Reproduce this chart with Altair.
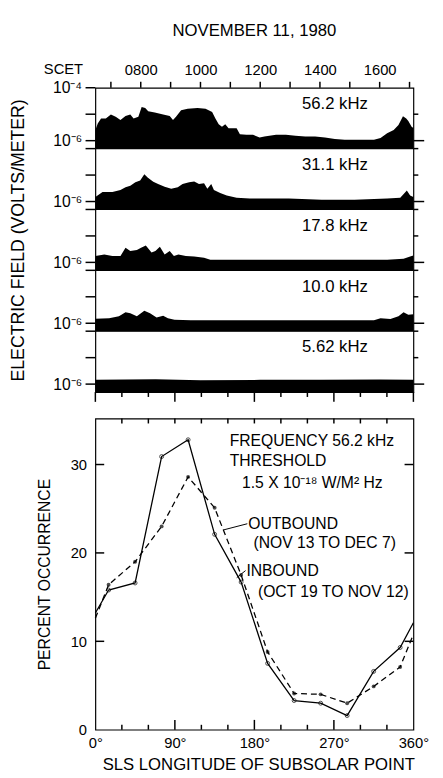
import altair as alt
import pandas as pd

FONT = "Liberation Sans"

# ---------------- top: electric field spectra (log10 V/m) vs SCET hour ----------------
panel_labels = ["56.2 kHz", "31.1 kHz", "17.8 kHz", "10.0 kHz", "5.62 kHz"]

p1_hour = [6.48, 6.56, 6.67, 6.83, 7.00, 7.16, 7.32, 7.49,
           7.65, 7.76, 7.92, 8.03, 8.15, 8.25, 8.47, 8.75,
           8.97, 9.08, 9.18, 9.35, 9.57, 9.90, 10.17, 10.39,
           10.50, 10.61, 10.72, 10.83, 10.94, 11.10, 11.21, 11.32,
           11.54, 11.76, 11.98, 12.14, 12.53, 12.86, 13.18, 13.51,
           13.84, 14.17, 14.50, 14.83, 15.16, 15.48, 15.81, 16.03,
           16.25, 16.47, 16.63, 16.78, 16.89, 16.96, 17.07, 17.13]
p1_log = [-5.60, -5.35, -5.16, -5.16, -5.01, -5.10, -5.22, -5.07,
          -5.01, -5.16, -5.10, -4.73, -4.77, -4.89, -4.94, -5.01,
          -5.07, -5.22, -5.10, -4.85, -4.79, -4.77, -4.79, -4.92,
          -5.16, -5.38, -5.47, -5.38, -5.53, -5.53, -5.53, -5.76,
          -5.78, -5.78, -5.88, -5.84, -5.78, -5.78, -5.81, -5.84,
          -5.84, -5.88, -5.94, -5.97, -5.97, -5.97, -5.97, -5.90,
          -5.72, -5.60, -5.41, -5.08, -5.16, -5.26, -5.47, -5.52]

p2_hour = [6.48, 6.72, 7.05, 7.32, 7.49, 7.65, 7.82, 7.98,
           8.12, 8.23, 8.42, 8.58, 8.80, 9.02, 9.24, 9.40,
           9.62, 9.79, 9.95, 10.12, 10.23, 10.36, 10.45, 10.66,
           10.88, 11.21, 11.65, 12.09, 12.96, 14.06, 15.16, 16.25,
           16.69, 16.91, 17.02, 17.13]
p2_log = [-5.83, -5.64, -5.64, -5.56, -5.46, -5.40, -5.27, -5.21,
          -4.97, -5.09, -5.25, -5.34, -5.44, -5.52, -5.46, -5.34,
          -5.27, -5.24, -5.34, -5.31, -5.52, -5.34, -5.56, -5.68,
          -5.77, -5.86, -5.89, -5.89, -5.89, -5.93, -5.93, -5.89,
          -5.86, -5.58, -5.77, -5.83]

p3_hour = [6.48, 6.78, 7.05, 7.32, 7.49, 7.65, 7.87, 8.01,
           8.17, 8.36, 8.49, 8.64, 8.80, 8.97, 9.11, 9.26,
           9.51, 9.79, 10.12, 10.33, 11.32, 12.96, 15.16, 16.25,
           16.80, 17.07, 17.13]
p3_log = [-5.76, -5.70, -5.76, -5.76, -5.45, -5.57, -5.53, -5.45,
          -5.36, -5.63, -5.57, -5.41, -5.70, -5.57, -5.76, -5.70,
          -5.76, -5.78, -5.82, -5.90, -5.90, -5.90, -5.90, -5.90,
          -5.86, -5.76, -5.74]

p4_hour = [6.48, 6.94, 7.27, 7.49, 7.65, 7.87, 8.12, 8.31,
           8.53, 8.75, 8.91, 9.13, 9.68, 11.87, 14.06, 15.81,
           16.03, 16.36, 16.63, 16.80, 16.96, 17.13]
p4_log = [-5.83, -5.81, -5.74, -5.58, -5.62, -5.74, -5.53, -5.62,
          -5.78, -5.72, -5.81, -5.87, -5.89, -5.89, -5.89, -5.89,
          -5.81, -5.84, -5.74, -5.58, -5.68, -5.66]

p5_hour = [6.48, 8.50, 10.00, 12.00, 14.00, 16.00, 17.13]
p5_log = [-5.84, -5.82, -5.85, -5.84, -5.84, -5.83, -5.84]

panels = [(p1_hour, p1_log), (p2_hour, p2_log), (p3_hour, p3_log),
          (p4_hour, p4_log), (p5_hour, p5_log)]

DEC = 2.3      # decades shown per panel
BOT = -6.3     # log10 value at the bottom of every panel
H0, H1 = 6.48, 17.13

rows = []
for p, (hrs, logs) in enumerate(panels):
    for h, l in zip(hrs, logs):
        rows.append({"panel": p, "hour": h,
                     "c": (4 - p) * DEC + (l - BOT), "base": (4 - p) * DEC})
spec = pd.DataFrame(rows)

six_vals = [round(0.3 + DEC * k, 3) for k in range(5)]
five_vals = [round(1.3 + DEC * k, 3) for k in range(5)]
bnd_vals = [round(DEC * k, 3) for k in range(1, 5)]
TOP = round(5 * DEC, 3)
hour_ticks = list(range(7, 18))
lon_minor_vals = [v for v in range(0, 361, 30) if v % 90 != 0]
lon_major_vals = [0, 90, 180, 270, 360]

lab_df = pd.DataFrame({"hour": [14.5] * 5,
                       "c": [round((4 - p) * DEC + DEC - 0.62, 3) for p in range(5)],
                       "label": panel_labels})
bnd_df = pd.DataFrame({"c": bnd_vals, "h1": [H0] * 4, "h2": [H1] * 4})

hscale = alt.Scale(domain=[H0, H1], nice=False, zero=False)
cscale = alt.Scale(domain=[0, TOP], nice=False, zero=False)
lscale = alt.Scale(domain=[0, 360], nice=False, zero=False)


def tick_layer(df, xf, xscale, yf, yscale, orient, length, offset):
    kw = {"xOffset": offset} if orient == "horizontal" else {"yOffset": offset}
    return alt.Chart(df).mark_tick(orient=orient, thickness=1.5, color="black",
                                   opacity=1, **kw).encode(
        x=alt.X(f"{xf}:Q", scale=xscale, axis=None),
        y=alt.Y(f"{yf}:Q", scale=yscale, axis=None),
        size=alt.value(length),
    )


areas = alt.Chart(spec).mark_area(color="black", interpolate="linear").encode(
    x=alt.X("hour:Q", scale=hscale,
            axis=alt.Axis(orient="top", values=hour_ticks,
                          labelExpr="datum.value % 2 == 0 ? (datum.value < 10 ? '0' + datum.value + '00' : datum.value + '00') : ''",
                          ticks=False, tickSize=0, labelPadding=10, labelFlush=False,
                          labelOverlap=False,
                          title="SCET", titleX=-33, titleY=-20, titleAlign="center",
                          titleBaseline="middle", titleFontSize=15)),
    y=alt.Y("c:Q", scale=cscale,
            axis=alt.Axis(orient="left", values=six_vals + [TOP],
                          labelExpr="abs(datum.value - 11.5) < 0.01 ? '10⁻⁴' : '10⁻⁶'",
                          ticks=False, tickSize=0, labelPadding=14, labelOverlap=False,
                          labelFontSize=16,
                          title="ELECTRIC FIELD (VOLTS/METER)", titleX=-78,
                          titleAlign="center", titleBaseline="middle", titleFontSize=18)),
    y2="base:Q",
    detail="panel:N",
)

rules = alt.Chart(bnd_df).mark_rule(color="black", strokeWidth=1.3).encode(
    x=alt.X("h1:Q", scale=hscale, axis=None),
    x2="h2:Q",
    y=alt.Y("c:Q", scale=cscale, axis=None),
)

labels = alt.Chart(lab_df).mark_text(font=FONT, fontSize=17, color="black").encode(
    x=alt.X("hour:Q", scale=hscale, axis=None),
    y=alt.Y("c:Q", scale=cscale, axis=None),
    text="label:N",
)

t_left = tick_layer(pd.DataFrame({"c": six_vals + five_vals + bnd_vals + [TOP], "h": H0}),
                    "h", hscale, "c", cscale, "horizontal", 10, -5)
t_top = tick_layer(pd.DataFrame({"h": hour_ticks, "c": TOP}),
                   "h", hscale, "c", cscale, "vertical", 6, -3)
t_right_l = tick_layer(pd.DataFrame({"c": six_vals, "h": H1}),
                       "h", hscale, "c", cscale, "horizontal", 11, 5.5)
t_right_s = tick_layer(pd.DataFrame({"c": five_vals + bnd_vals, "h": H1}),
                       "h", hscale, "c", cscale, "horizontal", 5, 2.5)
t_bot_min = tick_layer(pd.DataFrame({"lon": lon_minor_vals, "c": 0.0}),
                       "lon", lscale, "c", cscale, "vertical", 5, 2.5)
t_bot_maj = tick_layer(pd.DataFrame({"lon": lon_major_vals, "c": 0.0}),
                       "lon", lscale, "c", cscale, "vertical", 10, 5)

top = alt.layer(areas, rules, labels, t_left, t_top, t_right_l, t_right_s,
                t_bot_min, t_bot_maj).resolve_scale(
    x="independent", y="independent"
).properties(
    width=324, height=310,
    title=alt.TitleParams("NOVEMBER 11, 1980", anchor="middle", frame="group",
                          offset=22, fontSize=17),
)

# ---------------- bottom: percent occurrence vs SLS longitude ----------------
lon = [0, 15, 45, 75, 105, 135, 165, 195, 225, 255, 285, 315, 345, 360]
inbound = [13.2, 15.8, 16.6, 30.9, 32.8, 22.1, 16.7, 7.5, 3.3, 3.0, 1.6, 6.6, 9.3, 12.1]
outbound = [12.6, 16.4, 19.0, 23.0, 28.6, 25.1, 17.5, 8.8, 4.1, 4.0, 3.0, 4.9, 7.1, 10.8]

occ = pd.DataFrame({"lon": lon, "inbound": inbound, "outbound": outbound})
markers = occ.iloc[1:-1]

ann_lon = [152, 152, 166, 173, 179, 171, 184]
ann_val = [32.7, 30.4, 27.9, 23.3, 21.1, 18.0, 15.6]
ann_text = ["FREQUENCY 56.2 kHz", "THRESHOLD", "1.5 X 10⁻¹⁸ W/M² Hz",
            "OUTBOUND", "(NOV 13 TO DEC 7)", "INBOUND", "(OCT 19 TO NOV 12)"]
ann = pd.DataFrame({"lon": ann_lon, "val": ann_val, "text": ann_text})

lead = pd.DataFrame({"x1": [172, 170], "y1": [23.3, 18.0],
                     "x2": [145, 160], "y2": [22.6, 17.2]})

YMAX = 35.2
pct_ticks = [10, 20, 30]
W, H = 324, 317
xs = alt.Scale(domain=[0, 360], nice=False, zero=False)
ys = alt.Scale(domain=[0, YMAX], nice=False, zero=False)

in_line = alt.Chart(occ).mark_line(color="black", strokeWidth=1.3).encode(
    x=alt.X("lon:Q", scale=xs,
            axis=alt.Axis(orient="bottom", values=lon_major_vals,
                          labelExpr="datum.value + '°'", ticks=False, tickSize=0,
                          labelPadding=6, labelFlush=False,
                          title="SLS LONGITUDE OF SUBSOLAR POINT",
                          titleX=166, titleY=36, titleAlign="center",
                          titleBaseline="middle", titleFontSize=17)),
    y=alt.Y("inbound:Q", scale=ys,
            axis=alt.Axis(orient="left", values=[0] + pct_ticks, ticks=False, tickSize=0,
                          labelPadding=9, title="PERCENT OCCURRENCE", titleX=-52,
                          titleAlign="center", titleBaseline="middle")),
)
out_line = alt.Chart(occ).mark_line(color="black", strokeWidth=1.3, strokeDash=[6, 4]).encode(
    x=alt.X("lon:Q", scale=xs, axis=None),
    y=alt.Y("outbound:Q", scale=ys, axis=None),
)
in_pts = alt.Chart(markers).mark_point(shape="circle", filled=False, color="black",
                                       size=16, strokeWidth=1).encode(
    x=alt.X("lon:Q", scale=xs, axis=None),
    y=alt.Y("inbound:Q", scale=ys, axis=None),
)
out_pts = alt.Chart(markers).mark_point(shape="circle", filled=True, color="black",
                                        size=16).encode(
    x=alt.X("lon:Q", scale=xs, axis=None),
    y=alt.Y("outbound:Q", scale=ys, axis=None),
)
ann_layer = alt.Chart(ann).mark_text(align="left", baseline="middle", font=FONT,
                                     fontSize=16, color="black").encode(
    x=alt.X("lon:Q", scale=xs, axis=None),
    y=alt.Y("val:Q", scale=ys, axis=None),
    text="text:N",
)
lead_layer = alt.Chart(lead).mark_rule(color="black", strokeWidth=1).encode(
    x=alt.X("x1:Q", scale=xs, axis=None),
    x2="x2:Q",
    y=alt.Y("y1:Q", scale=ys, axis=None),
    y2="y2:Q",
)

b_left = tick_layer(pd.DataFrame({"lon": 0, "v": pct_ticks}),
                    "lon", xs, "v", ys, "horizontal", 9, 4.5)
b_right = tick_layer(pd.DataFrame({"lon": 360, "v": pct_ticks}),
                     "lon", xs, "v", ys, "horizontal", 9, -4.5)
b_bot_min = tick_layer(pd.DataFrame({"lon": lon_minor_vals, "v": 0.0}),
                       "lon", xs, "v", ys, "vertical", 5, -2.5)
b_bot_maj = tick_layer(pd.DataFrame({"lon": [90, 180, 270], "v": 0.0}),
                       "lon", xs, "v", ys, "vertical", 10, -5)
b_top = tick_layer(pd.DataFrame({"lon": list(range(30, 360, 30)), "v": YMAX}),
                   "lon", xs, "v", ys, "vertical", 5, 2.5)

bottom = alt.layer(in_line, out_line, in_pts, out_pts, ann_layer, lead_layer,
                   b_left, b_right, b_bot_min, b_bot_maj, b_top).resolve_scale(
    x="independent", y="independent"
).properties(width=W, height=H)

chart = alt.vconcat(top, bottom, spacing=15).properties(
    padding={"left": 1, "top": 6, "right": 5, "bottom": 0}
).configure_view(
    stroke="black", strokeWidth=1.2
).configure_axis(
    domain=False, grid=False,
    labelFont=FONT, titleFont=FONT,
    labelColor="black", titleColor="black",
    labelFontSize=15, titleFontSize=16, titleFontWeight="normal",
).configure_title(
    font=FONT, fontSize=17, fontWeight="normal", color="black"
)

chart.save("out.html", embed_options={"renderer": "svg", "actions": False})
